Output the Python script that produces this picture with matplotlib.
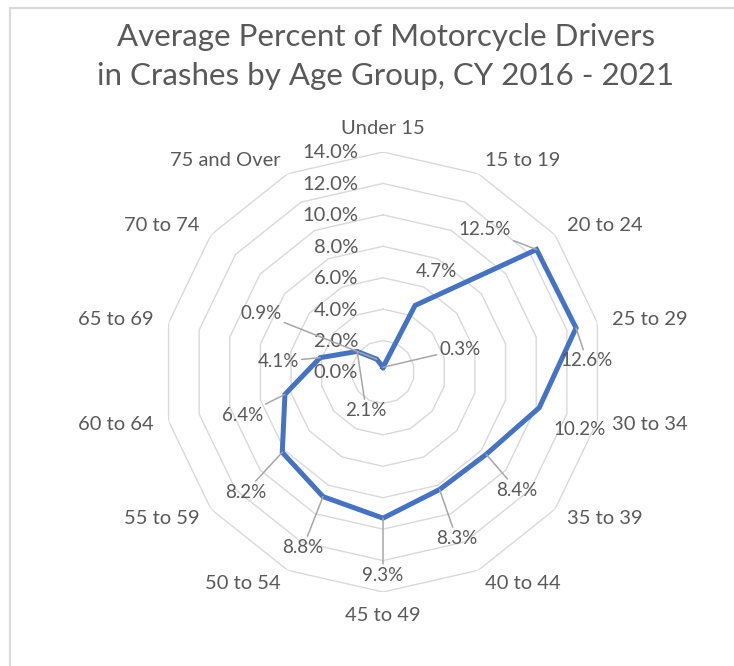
import numpy as np
import matplotlib
matplotlib.use("Agg")
import matplotlib.pyplot as plt
from matplotlib.lines import Line2D

plt.rcParams['font.family'] = ['Lato', 'DejaVu Sans']

title_lines = ["Average Percent of Motorcycle Drivers",
               "in Crashes by Age Group, CY 2016 - 2021"]
age_groups = ["Under 15", "15 to 19", "20 to 24", "25 to 29", "30 to 34",
              "35 to 39", "40 to 44", "45 to 49", "50 to 54", "55 to 59",
              "60 to 64", "65 to 69", "70 to 74", "75 and Over"]
pct = [0.3, 4.7, 12.5, 12.6, 10.2, 8.4, 8.3, 9.3, 8.8, 8.2, 6.4, 4.1, 2.1, 0.9]
ring_levels = [0, 2, 4, 6, 8, 10, 12, 14]

# data label placement (offset from point in pixels) and whether a leader line is drawn
label_offsets = [(77, 18), (21, 34), (-52, 20), (11, -33), (40, -22), (31, -36),
                 (17, -49), (0, -57), (-20, -51), (-37, -40), (-42, -21),
                 (-42, -4), (9, -59), (-116, 46)]
leaders = [True, False, True, True, False, True, True, True, True, True, True,
           True, True, True]

text_col = "#595959"
grid_col = "#d9d9d9"
line_col = "#4472C4"

fig = plt.figure(figsize=(7.34, 6.66), dpi=100)
ax = fig.add_axes([163 / 734, 74 / 666, 440 / 734, 440 / 666], polar=True)
ax.set_theta_zero_location("N")
ax.set_theta_direction(-1)

n = len(age_groups)
theta = np.arange(n) * 2 * np.pi / n

# polygon rings instead of circles
for lv in ring_levels[1:]:
    ax.plot(np.append(theta, theta[0]), [lv] * (n + 1), color=grid_col, lw=1.0, zorder=1)

ax.plot(np.append(theta, theta[0]), pct + pct[:1], color=line_col, lw=3.6,
        solid_joinstyle="miter", zorder=3)

ax.set_ylim(0, 14)
ax.grid(False)
ax.set_xticks([])
ax.set_yticks([])
ax.spines["polar"].set_visible(False)
ax.patch.set_alpha(0)

for lv in ring_levels:
    ax.annotate(f"{lv:.1f}%", xy=(0, lv), xytext=(-25, -1), textcoords="offset pixels",
                ha="right", va="center", fontsize=14.5, color=text_col)

for t, lab in zip(theta, age_groups):
    s = np.sin(t)
    if abs(s) < 0.01:
        ha = "center"
        va = "bottom" if np.cos(t) > 0 else "top"
    else:
        ha = "left" if s > 0 else "right"
        va = "center"
    ax.text(t, 14.95, lab, ha=ha, va=va, fontsize=14.5, color=text_col)

for t, v, (dx, dy), ld in zip(theta, pct, label_offsets, leaders):
    props = dict(arrowstyle="-", color="#a6a6a6", lw=1.1, shrinkA=0, shrinkB=0) if ld else None
    ax.annotate(f"{v:.1f}%", xy=(t, v), xytext=(dx, dy), textcoords="offset pixels",
                ha="center", va="center", fontsize=13.5, color=text_col,
                arrowprops=props, zorder=4)

fig.text(386 / 734, 1 - 37 / 666, title_lines[0], ha="center", va="center",
         fontsize=22.5, color=text_col)
fig.text(386 / 734, 1 - 76 / 666, title_lines[1], ha="center", va="center",
         fontsize=22.5, color=text_col)

# chart frame (only top and left edges are visible in the crop)
fig.add_artist(Line2D([9.5 / 734, 1], [1 - 8 / 666, 1 - 8 / 666], color=grid_col, lw=1.5,
                      transform=fig.transFigure))
fig.add_artist(Line2D([9.5 / 734, 9.5 / 734], [0, 1 - 8 / 666], color=grid_col, lw=1.5,
                      transform=fig.transFigure))

fig.savefig("out.png", dpi=100)
